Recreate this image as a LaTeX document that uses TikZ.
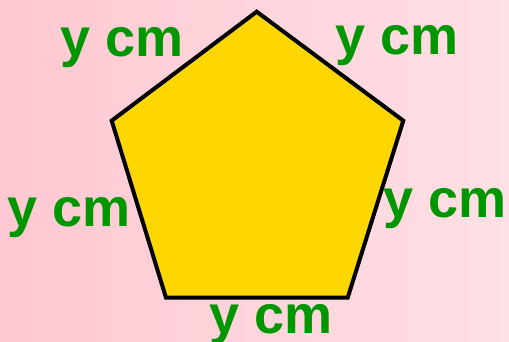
\documentclass[tikz,border=0pt]{standalone}
\usepackage{fontspec}
\setmainfont{Liberation Sans}
\usepackage{tikz}
\usetikzlibrary{calc, positioning}
\definecolor{sidegreen}{RGB}{0,150,0}
\definecolor{pentyellow}{RGB}{255,215,0}
\definecolor{pinkleft}{RGB}{255,200,210}
\definecolor{pinkright}{RGB}{255,224,229}

\begin{document}
\begin{tikzpicture}[x=1pt, y=-1pt,
  side/.style={text=sidegreen, font=\fontsize{54}{54}\selectfont\bfseries, anchor=base, inner sep=0pt}]
\useasboundingbox (0,0) rectangle (509,342);
\shade[left color=pinkleft, right color=pinkright] (0,0) rectangle (509,342);
% corners of the pentagon
\coordinate (top) at (256.7,11.7);
\coordinate (rt) at (403.3,120.7);
\coordinate (br) at (347.7,297.7);
\coordinate (bl) at (166,297.7);
\coordinate (lt) at (111.7,120.7);
\draw[fill=pentyellow, line width=4pt, line join=miter] (top) -- (rt) -- (br) -- (bl) -- (lt) -- cycle;
% side lengths
\node[side] (s1) at (122.5,57) {y cm};
\node[side] (s2) at (397,55) {y cm};
\node[side] (s3) at (69.5,226.7) {y cm};
\node[side] (s4) at (445,217) {y cm};
\node[side] (s5) at (271,333) {y cm};
\end{tikzpicture}
\end{document}
